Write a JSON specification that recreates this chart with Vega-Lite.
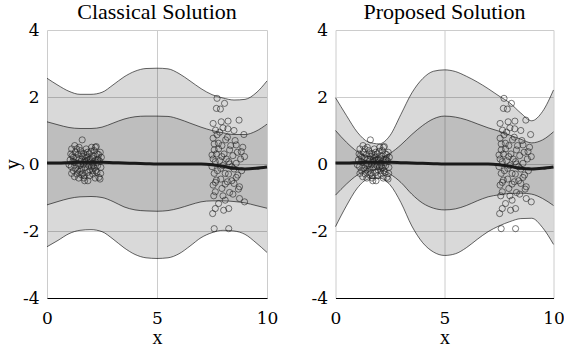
{
  "$schema": "https://vega.github.io/schema/vega-lite/v6.json",
  "padding": {"left": 1, "top": 1, "right": 0, "bottom": 0},
  "config": {
    "font": "Liberation Serif, Times New Roman, DejaVu Serif, serif",
    "view": {"stroke": null},
    "axis": {"labelFont": "DejaVu Serif", "titleFont": "Liberation Serif", "labelFontSize": 17, "titleFontSize": 21, "labelColor": "#000", "titleColor": "#000", "titleFontWeight": "normal", "gridColor": "#cccccc", "gridWidth": 1, "ticks": false, "domain": false},
    "title": {"font": "Liberation Serif, Times New Roman, DejaVu Serif, serif", "fontSize": 22, "fontWeight": "normal", "color": "#000", "offset": -3}
  },
  "datasets": {
    "bands": [
      {"p":"C","x":0,"lo2":-2.47,"lo1":-1.22,"mu":0.03,"hi1":1.26,"hi2":2.56},
      {"p":"C","x":0.5,"lo2":-2.28,"lo1":-1.12,"mu":0.03,"hi1":1.17,"hi2":2.35},
      {"p":"C","x":1,"lo2":-2.08,"lo1":-1.03,"mu":0.04,"hi1":1.09,"hi2":2.17},
      {"p":"C","x":1.5,"lo2":-1.98,"lo1":-0.98,"mu":0.05,"hi1":1.06,"hi2":2.08},
      {"p":"C","x":2,"lo2":-1.96,"lo1":-0.97,"mu":0.05,"hi1":1.06,"hi2":2.08},
      {"p":"C","x":2.5,"lo2":-2.02,"lo1":-1.0,"mu":0.05,"hi1":1.1,"hi2":2.14},
      {"p":"C","x":3,"lo2":-2.24,"lo1":-1.12,"mu":0.04,"hi1":1.22,"hi2":2.36},
      {"p":"C","x":3.5,"lo2":-2.5,"lo1":-1.28,"mu":0.03,"hi1":1.34,"hi2":2.6},
      {"p":"C","x":4,"lo2":-2.7,"lo1":-1.37,"mu":0.02,"hi1":1.41,"hi2":2.77},
      {"p":"C","x":4.5,"lo2":-2.8,"lo1":-1.4,"mu":0.01,"hi1":1.43,"hi2":2.85},
      {"p":"C","x":5,"lo2":-2.82,"lo1":-1.41,"mu":0.0,"hi1":1.43,"hi2":2.86},
      {"p":"C","x":5.5,"lo2":-2.8,"lo1":-1.39,"mu":0.0,"hi1":1.42,"hi2":2.84},
      {"p":"C","x":6,"lo2":-2.68,"lo1":-1.32,"mu":0.0,"hi1":1.34,"hi2":2.7},
      {"p":"C","x":6.5,"lo2":-2.45,"lo1":-1.22,"mu":0.0,"hi1":1.22,"hi2":2.48},
      {"p":"C","x":7,"lo2":-2.2,"lo1":-1.13,"mu":0.0,"hi1":1.1,"hi2":2.25},
      {"p":"C","x":7.5,"lo2":-2.05,"lo1":-1.1,"mu":-0.02,"hi1":1.0,"hi2":2.07},
      {"p":"C","x":8,"lo2":-1.98,"lo1":-1.1,"mu":-0.07,"hi1":0.93,"hi2":1.97},
      {"p":"C","x":8.5,"lo2":-2.0,"lo1":-1.12,"mu":-0.13,"hi1":0.88,"hi2":1.91},
      {"p":"C","x":9,"lo2":-2.1,"lo1":-1.16,"mu":-0.15,"hi1":0.88,"hi2":1.93},
      {"p":"C","x":9.5,"lo2":-2.35,"lo1":-1.24,"mu":-0.13,"hi1":0.98,"hi2":2.12},
      {"p":"C","x":10,"lo2":-2.64,"lo1":-1.32,"mu":-0.09,"hi1":1.19,"hi2":2.48},
      {"p":"P","x":0,"lo2":-1.87,"lo1":-0.93,"mu":0.03,"hi1":1.0,"hi2":1.98},
      {"p":"P","x":0.5,"lo2":-1.25,"lo1":-0.6,"mu":0.03,"hi1":0.65,"hi2":1.45},
      {"p":"P","x":1,"lo2":-0.72,"lo1":-0.33,"mu":0.04,"hi1":0.37,"hi2":0.95},
      {"p":"P","x":1.5,"lo2":-0.45,"lo1":-0.18,"mu":0.05,"hi1":0.22,"hi2":0.66},
      {"p":"P","x":2,"lo2":-0.42,"lo1":-0.17,"mu":0.05,"hi1":0.2,"hi2":0.6},
      {"p":"P","x":2.5,"lo2":-0.62,"lo1":-0.3,"mu":0.05,"hi1":0.32,"hi2":0.85},
      {"p":"P","x":3,"lo2":-1.15,"lo1":-0.55,"mu":0.04,"hi1":0.57,"hi2":1.48},
      {"p":"P","x":3.5,"lo2":-1.85,"lo1":-0.9,"mu":0.03,"hi1":0.88,"hi2":2.12},
      {"p":"P","x":4,"lo2":-2.35,"lo1":-1.17,"mu":0.02,"hi1":1.15,"hi2":2.55},
      {"p":"P","x":4.5,"lo2":-2.63,"lo1":-1.32,"mu":0.01,"hi1":1.35,"hi2":2.77},
      {"p":"P","x":5,"lo2":-2.73,"lo1":-1.37,"mu":0.0,"hi1":1.43,"hi2":2.81},
      {"p":"P","x":5.5,"lo2":-2.68,"lo1":-1.34,"mu":0.0,"hi1":1.4,"hi2":2.76},
      {"p":"P","x":6,"lo2":-2.5,"lo1":-1.24,"mu":0.0,"hi1":1.32,"hi2":2.62},
      {"p":"P","x":6.5,"lo2":-2.25,"lo1":-1.1,"mu":0.0,"hi1":1.2,"hi2":2.45},
      {"p":"P","x":7,"lo2":-2.02,"lo1":-0.98,"mu":0.0,"hi1":1.08,"hi2":2.25},
      {"p":"P","x":7.5,"lo2":-1.85,"lo1":-0.92,"mu":-0.02,"hi1":0.98,"hi2":2.03},
      {"p":"P","x":8,"lo2":-1.72,"lo1":-0.88,"mu":-0.07,"hi1":0.86,"hi2":1.82},
      {"p":"P","x":8.5,"lo2":-1.63,"lo1":-0.87,"mu":-0.13,"hi1":0.74,"hi2":1.52},
      {"p":"P","x":9,"lo2":-1.62,"lo1":-0.9,"mu":-0.15,"hi1":0.63,"hi2":1.29},
      {"p":"P","x":9.5,"lo2":-1.9,"lo1":-1.03,"mu":-0.13,"hi1":0.72,"hi2":1.57},
      {"p":"P","x":10,"lo2":-2.4,"lo1":-1.24,"mu":-0.09,"hi1":0.96,"hi2":2.21}
    ],
    "pts": [
      {"x":1.05,"y":0.12},{"x":1.1,"y":-0.08},{"x":1.15,"y":0.25},{"x":1.2,"y":-0.2},{"x":1.22,"y":0.05},
      {"x":1.28,"y":0.35},{"x":1.3,"y":-0.12},{"x":1.33,"y":0.18},{"x":1.36,"y":-0.3},{"x":1.4,"y":0.02},
      {"x":1.42,"y":0.28},{"x":1.45,"y":-0.05},{"x":1.48,"y":0.15},{"x":1.5,"y":-0.22},{"x":1.52,"y":0.4},
      {"x":1.55,"y":0.08},{"x":1.58,"y":-0.15},{"x":1.6,"y":0.72},{"x":1.62,"y":0.22},{"x":1.65,"y":-0.02},
      {"x":1.67,"y":0.32},{"x":1.7,"y":-0.35},{"x":1.72,"y":0.1},{"x":1.75,"y":-0.1},{"x":1.78,"y":0.45},
      {"x":1.8,"y":0.0},{"x":1.82,"y":0.2},{"x":1.85,"y":-0.25},{"x":1.88,"y":0.12},{"x":1.9,"y":-0.05},
      {"x":1.92,"y":0.3},{"x":1.95,"y":-0.18},{"x":1.98,"y":0.06},{"x":2.0,"y":0.38},{"x":2.02,"y":-0.08},
      {"x":2.05,"y":0.18},{"x":2.08,"y":-0.3},{"x":2.1,"y":0.02},{"x":2.12,"y":0.25},{"x":2.15,"y":-0.12},
      {"x":2.18,"y":0.1},{"x":2.2,"y":0.5},{"x":2.22,"y":-0.2},{"x":2.25,"y":0.05},{"x":2.28,"y":0.3},
      {"x":2.3,"y":-0.05},{"x":2.33,"y":0.15},{"x":2.36,"y":-0.4},{"x":2.4,"y":0.08},{"x":2.42,"y":0.35},
      {"x":2.45,"y":-0.1},{"x":2.47,"y":0.2},{"x":1.0,"y":-0.02},{"x":1.08,"y":0.3},{"x":1.12,"y":-0.28},
      {"x":1.18,"y":0.08},{"x":1.25,"y":-0.38},{"x":1.35,"y":0.45},{"x":1.44,"y":-0.42},{"x":1.53,"y":0.0},
      {"x":1.57,"y":0.3},{"x":1.63,"y":-0.28},{"x":1.71,"y":-0.5},{"x":1.76,"y":0.25},{"x":1.84,"y":0.35},
      {"x":1.93,"y":-0.35},{"x":2.03,"y":0.5},{"x":2.07,"y":-0.2},{"x":2.14,"y":0.4},{"x":2.19,"y":-0.42},
      {"x":2.27,"y":-0.25},{"x":2.35,"y":0.28},{"x":2.44,"y":-0.28},{"x":1.26,"y":0.55},{"x":1.12,"y":0.45},
      {"x":2.24,"y":0.52},{"x":1.68,"y":-0.42},{"x":2.41,"y":-0.45},{"x":1.86,"y":-0.5},{"x":1.2,"y":0.2},
      {"x":1.46,"y":0.5},{"x":1.97,"y":0.15},{"x":2.11,"y":-0.06},{"x":1.39,"y":-0.18},{"x":1.81,"y":0.1},
      {"x":2.31,"y":0.12},{"x":1.56,"y":-0.32},{"x":1.74,"y":0.05},
      {"x":7.73,"y":1.96},{"x":8.07,"y":1.81},{"x":7.7,"y":1.66},{"x":7.88,"y":1.64},{"x":7.55,"y":1.21},
      {"x":7.92,"y":1.26},{"x":8.23,"y":1.28},{"x":8.73,"y":1.31},{"x":7.66,"y":1.01},{"x":8.0,"y":1.08},
      {"x":8.95,"y":0.88},{"x":7.73,"y":0.87},{"x":7.55,"y":0.77},{"x":8.12,"y":0.72},{"x":7.79,"y":0.62},
      {"x":8.6,"y":0.57},{"x":7.6,"y":0.42},{"x":8.3,"y":0.42},{"x":8.83,"y":0.37},{"x":7.5,"y":0.27},
      {"x":7.95,"y":0.22},{"x":8.98,"y":0.22},{"x":7.65,"y":0.07},{"x":8.26,"y":0.07},{"x":8.6,"y":0.02},
      {"x":7.5,"y":-0.08},{"x":7.9,"y":-0.13},{"x":8.4,"y":-0.08},{"x":7.6,"y":-0.28},{"x":8.1,"y":-0.28},
      {"x":8.67,"y":-0.33},{"x":7.7,"y":-0.48},{"x":8.2,"y":-0.53},{"x":8.5,"y":-0.58},{"x":7.55,"y":-0.63},
      {"x":7.95,"y":-0.73},{"x":8.75,"y":-0.68},{"x":7.65,"y":-0.83},{"x":8.3,"y":-0.85},{"x":8.75,"y":-1.03},
      {"x":8.98,"y":-1.13},{"x":8.1,"y":-1.08},{"x":7.8,"y":-1.18},{"x":7.65,"y":-1.33},{"x":8.03,"y":-1.38},
      {"x":7.53,"y":-1.48},{"x":8.26,"y":-1.33},{"x":7.6,"y":-1.93},{"x":8.26,"y":-1.93},
      {"x":7.6,"y":0.6},{"x":7.7,"y":0.3},{"x":7.75,"y":-0.2},{"x":7.8,"y":0.45},{"x":7.85,"y":0.1},
      {"x":7.9,"y":-0.45},{"x":7.95,"y":0.55},{"x":8.0,"y":-0.05},{"x":8.05,"y":0.3},{"x":8.1,"y":-0.6},
      {"x":8.15,"y":0.15},{"x":8.2,"y":0.8},{"x":8.25,"y":-0.3},{"x":8.3,"y":0.0},{"x":8.35,"y":0.55},
      {"x":8.4,"y":-0.5},{"x":8.45,"y":0.25},{"x":8.5,"y":-0.15},{"x":8.55,"y":0.7},{"x":8.6,"y":-0.4},
      {"x":8.65,"y":0.35},{"x":8.7,"y":-0.75},{"x":8.8,"y":0.15},{"x":8.85,"y":-0.2},{"x":8.9,"y":0.5},
      {"x":7.55,"y":0.15},{"x":7.65,"y":-0.55},{"x":7.58,"y":-0.95},{"x":8.0,"y":-0.95},{"x":8.45,"y":-0.9},
      {"x":8.22,"y":1.05},{"x":7.85,"y":0.95},{"x":8.5,"y":1.0}
    ]
  },
  "spacing": 32.5,
  "hconcat": [
    {
      "title": "Classical Solution",
      "width": 220,
      "height": 268,
      "encoding": {
        "x": {"type": "quantitative", "scale": {"domain": [0, 10], "nice": false}, "axis": {"values": [0, 5, 10], "format": "d", "title": "x", "domain": true, "domainColor": "#000", "domainWidth": 1, "labelPadding": 12, "titlePadding": 1, "titleFontSize": 20, "labelFlush": false, "grid": true, "labelFont": "DejaVu Serif", "titleFont": "Liberation Serif"}},
        "y": {"type": "quantitative", "scale": {"domain": [-4, 4], "nice": false, "zero": false}, "axis": {"values": [-4, -2, 0, 2, 4], "labelExpr": "replace(datum.label, '\u2212', '-')", "title": "y", "labelPadding": 8, "titlePadding": 0, "grid": true, "labelFont": "DejaVu Serif", "titleFont": "Liberation Serif"}}
      },
      "layer": [
        {"data": {"name": "bands"}, "transform": [{"filter": "datum.p === 'C'"}], "mark": {"type": "area", "color": "#000", "opacity": 0.15, "interpolate": "monotone"}, "encoding": {"x": {"field": "x", "type": "quantitative"}, "y": {"field": "lo2", "type": "quantitative"}, "y2": {"field": "hi2"}}},
        {"data": {"name": "bands"}, "transform": [{"filter": "datum.p === 'C'"}], "mark": {"type": "area", "color": "#000", "opacity": 0.12, "interpolate": "monotone"}, "encoding": {"x": {"field": "x", "type": "quantitative"}, "y": {"field": "lo1", "type": "quantitative"}, "y2": {"field": "hi1"}}},
        {"data": {"name": "bands"}, "transform": [{"filter": "datum.p === 'C'"}, {"fold": ["lo2", "lo1", "hi1", "hi2"], "as": ["k", "v"]}], "mark": {"type": "line", "color": "#000", "strokeWidth": 0.6, "interpolate": "monotone"}, "encoding": {"x": {"field": "x", "type": "quantitative"}, "y": {"field": "v", "type": "quantitative"}, "detail": {"field": "k"}}},
        {"data": {"name": "pts"}, "mark": {"type": "point", "shape": "circle", "filled": false, "color": "#222", "size": 38, "strokeWidth": 0.6, "opacity": 1}, "encoding": {"x": {"field": "x", "type": "quantitative"}, "y": {"field": "y", "type": "quantitative"}}},
        {"data": {"name": "bands"}, "transform": [{"filter": "datum.p === 'C'"}], "mark": {"type": "line", "color": "#1a1a1a", "strokeWidth": 3, "interpolate": "monotone"}, "encoding": {"x": {"field": "x", "type": "quantitative"}, "y": {"field": "mu", "type": "quantitative"}}}
      ]
    },
    {
      "title": "Proposed Solution",
      "width": 218,
      "height": 268,
      "encoding": {
        "x": {"type": "quantitative", "scale": {"domain": [0, 10], "nice": false}, "axis": {"values": [0, 5, 10], "format": "d", "title": "x", "domain": true, "domainColor": "#000", "domainWidth": 1, "labelPadding": 12, "titlePadding": 1, "titleFontSize": 20, "labelFlush": false, "grid": true, "labelFont": "DejaVu Serif", "titleFont": "Liberation Serif"}},
        "y": {"type": "quantitative", "scale": {"domain": [-4, 4], "nice": false, "zero": false}, "axis": {"values": [-4, -2, 0, 2, 4], "labelExpr": "replace(datum.label, '\u2212', '-')", "title": null, "labelPadding": 8, "grid": true, "labelFont": "DejaVu Serif"}}
      },
      "layer": [
        {"data": {"name": "bands"}, "transform": [{"filter": "datum.p === 'P'"}], "mark": {"type": "area", "color": "#000", "opacity": 0.15, "interpolate": "monotone"}, "encoding": {"x": {"field": "x", "type": "quantitative"}, "y": {"field": "lo2", "type": "quantitative"}, "y2": {"field": "hi2"}}},
        {"data": {"name": "bands"}, "transform": [{"filter": "datum.p === 'P'"}], "mark": {"type": "area", "color": "#000", "opacity": 0.12, "interpolate": "monotone"}, "encoding": {"x": {"field": "x", "type": "quantitative"}, "y": {"field": "lo1", "type": "quantitative"}, "y2": {"field": "hi1"}}},
        {"data": {"name": "bands"}, "transform": [{"filter": "datum.p === 'P'"}, {"fold": ["lo2", "lo1", "hi1", "hi2"], "as": ["k", "v"]}], "mark": {"type": "line", "color": "#000", "strokeWidth": 0.6, "interpolate": "monotone"}, "encoding": {"x": {"field": "x", "type": "quantitative"}, "y": {"field": "v", "type": "quantitative"}, "detail": {"field": "k"}}},
        {"data": {"name": "pts"}, "mark": {"type": "point", "shape": "circle", "filled": false, "color": "#222", "size": 38, "strokeWidth": 0.6, "opacity": 1}, "encoding": {"x": {"field": "x", "type": "quantitative"}, "y": {"field": "y", "type": "quantitative"}}},
        {"data": {"name": "bands"}, "transform": [{"filter": "datum.p === 'P'"}], "mark": {"type": "line", "color": "#1a1a1a", "strokeWidth": 3, "interpolate": "monotone"}, "encoding": {"x": {"field": "x", "type": "quantitative"}, "y": {"field": "mu", "type": "quantitative"}}}
      ]
    }
  ]
}
